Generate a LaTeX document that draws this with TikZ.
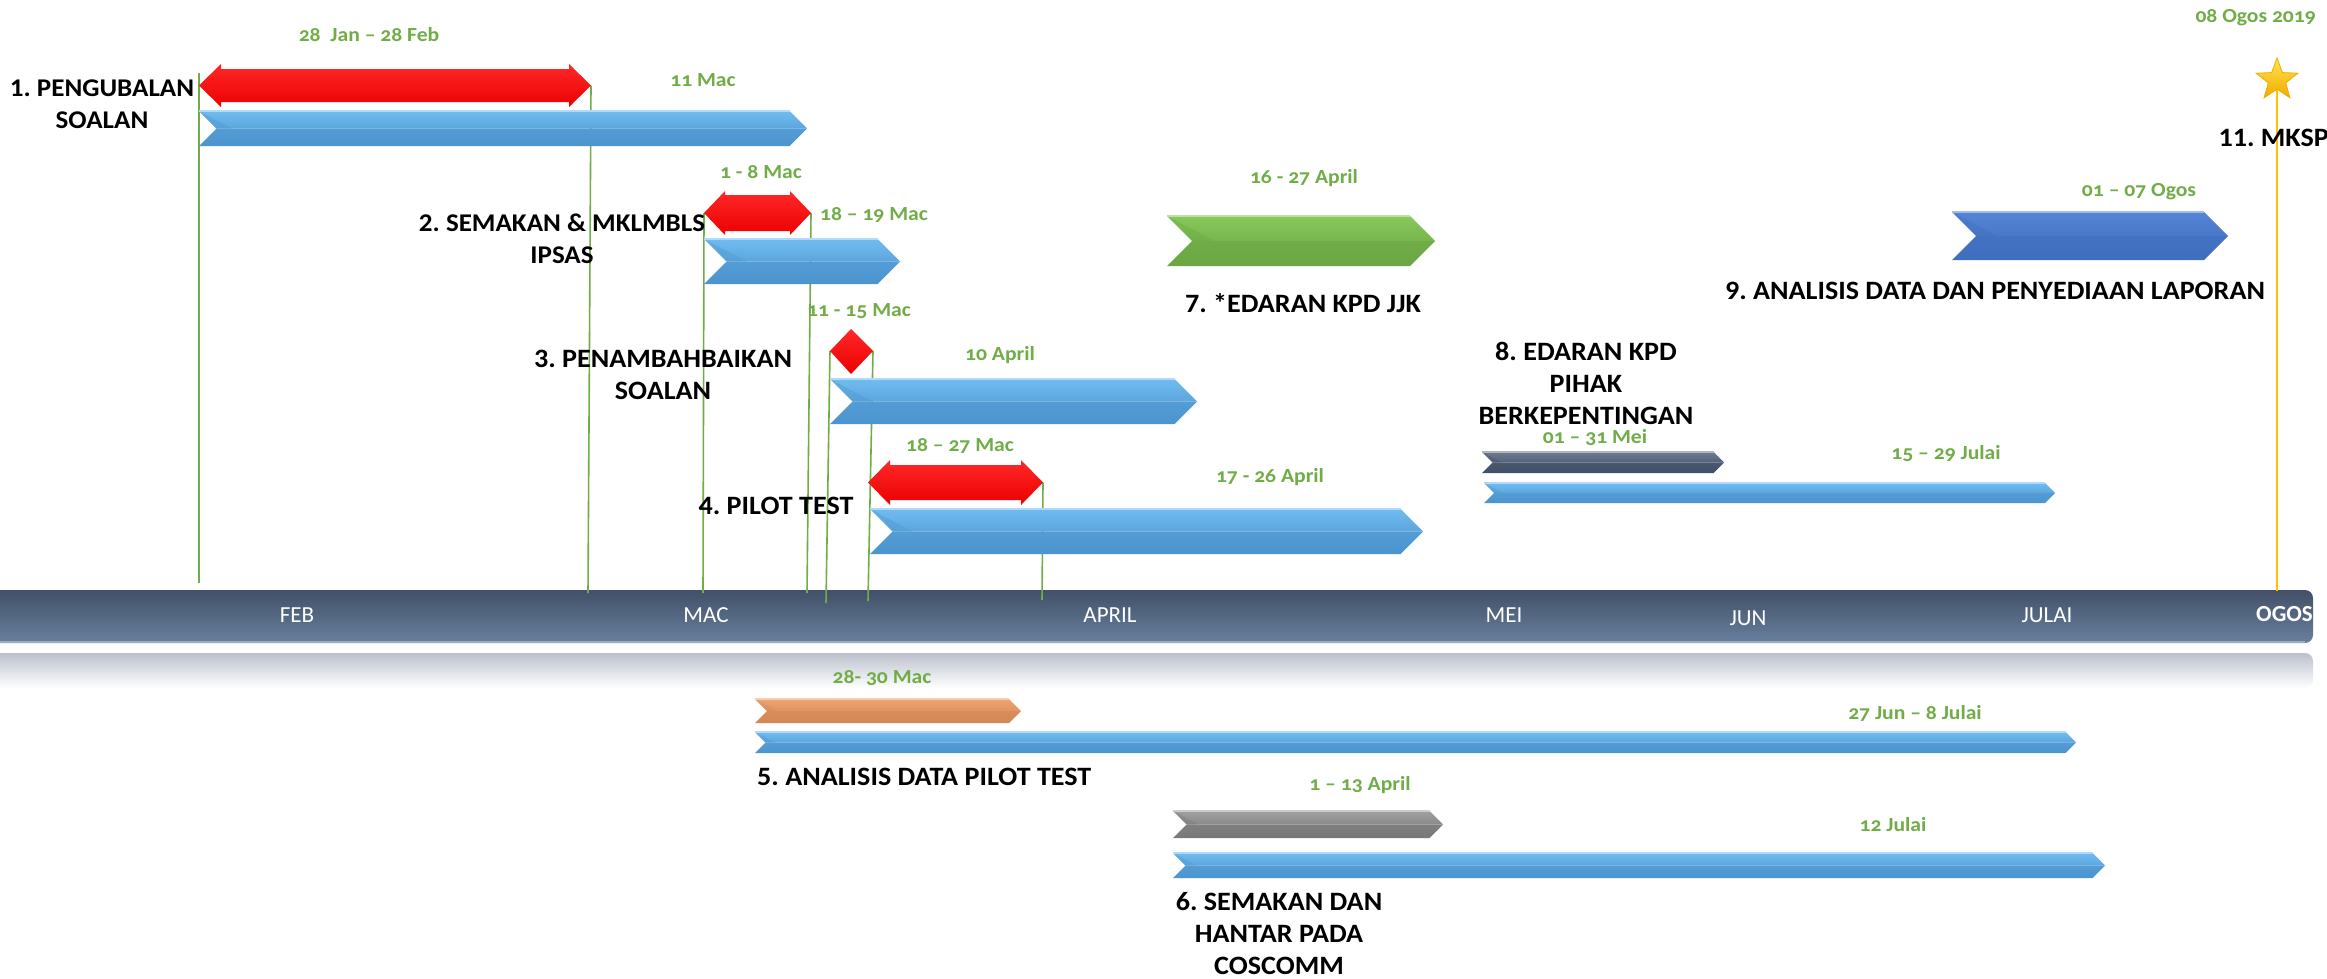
\documentclass[tikz,border=0pt]{standalone}
\usepackage{fontspec}
\setmainfont{Carlito}
\newfontfamily\labfam[FakeStretch=1.06]{Carlito}
\newfontfamily\datefam[FakeStretch=1.08, Numbers=OldStyle]{Carlito}
\usetikzlibrary{shapes.geometric}
\frenchspacing

\definecolor{lblgreen}{RGB}{112,173,71}
\definecolor{blueT}{RGB}{112,188,240}
\definecolor{blueB}{RGB}{76,148,206}
\definecolor{royalT}{RGB}{86,132,214}
\definecolor{royalB}{RGB}{64,110,190}
\definecolor{greenT}{RGB}{136,200,92}
\definecolor{greenB}{RGB}{106,166,66}
\definecolor{orangeT}{RGB}{238,164,112}
\definecolor{orangeB}{RGB}{210,135,85}
\definecolor{grayT}{RGB}{160,160,160}
\definecolor{grayB}{RGB}{120,120,120}
\definecolor{darkT}{RGB}{108,122,142}
\definecolor{darkB}{RGB}{64,80,104}
\definecolor{redT}{RGB}{255,40,40}
\definecolor{redB}{RGB}{236,0,0}
\definecolor{barT}{RGB}{66,80,104}
\definecolor{barB}{RGB}{104,128,158}
\definecolor{reflT}{RGB}{186,192,204}
\definecolor{starT}{RGB}{255,230,80}
\definecolor{starB}{RGB}{240,170,0}
\definecolor{gold}{RGB}{255,192,0}

\newcommand\labfont{\labfam\fontsize{26.5}{32}\selectfont\bfseries}
\newcommand\labfontsm{\labfam\fontsize{25.5}{32}\selectfont\bfseries}
\newcommand\datefont{\datefam\fontsize{20}{22}\selectfont\bfseries}

\tikzset{
  lab/.style={font=\labfont, align=center, inner sep=0pt, text=black},
  dlab/.style={font=\datefont, text=lblgreen, inner sep=0pt},
  mon/.style={font=\fontsize{23}{26}\selectfont, text=white, inner sep=0pt},
  guide/.style={draw=lblgreen, line width=1.6pt},
  redshape/.style={top color=redT, bottom color=redB},
}

% chevron: name, light colour, base colour, x1, x2, y1, y2
\newcommand\mychev[7]{%
  \pgfmathsetmacro\cvH{(#7-#6)/2}%
  \pgfmathsetmacro\cvM{(#6+#7)/2}%
  \path[top color=#2, bottom color=#2!45!#3] (#4,#6) -- ({#5-\cvH},#6) -- (#5,\cvM) -- ({#4+\cvH},\cvM) -- cycle;
  \path[top color=#3!80!#2, bottom color=#3] ({#4+\cvH},\cvM) -- (#5,\cvM) -- ({#5-\cvH},#7) -- (#4,#7) -- cycle;
  \path[fill=#3, fill opacity=0.35] (#4,#6) -- ({#4+\cvH},\cvM) -- ({#4+1.9*\cvH},\cvM) -- cycle;
  \draw[#2!55!white, line width=1.1pt] (#4,#6) -- ({#5-\cvH},#6);
  \coordinate (#1) at (#4,\cvM);
}
% double arrow: name, x1, x2, y1, y2, inset, head width
\newcommand\mydbl[7]{%
  \pgfmathsetmacro\dbM{(#4+#5)/2}%
  \path[redshape] (#2,\dbM) -- ({#2+#7},#4) -- ({#2+#7},{#4+#6}) -- ({#3-#7},{#4+#6}) -- ({#3-#7},#4) -- (#3,\dbM)
    -- ({#3-#7},#5) -- ({#3-#7},{#5-#6}) -- ({#2+#7},{#5-#6}) -- ({#2+#7},#5) -- cycle;
  \coordinate (#1w) at (#2,\dbM);
  \coordinate (#1e) at (#3,\dbM);
}

\begin{document}
\begin{tikzpicture}[x=1pt,y=-1pt]
\useasboundingbox[fill=white] (0,0) rectangle (2327,978);

% ---------- timeline bar and reflection ----------
\begin{scope}
  \clip (0,0) rectangle (2327,978);
  \path[top color=reflT, bottom color=white, rounded corners=8pt] (-20,653) rectangle (2313,688);
  \path[top color=barT, bottom color=barB, rounded corners=8pt] (-20,590) rectangle (2313,643);
  \draw[white, opacity=0.35, line width=1.2pt] (0,642) -- (2305,642);
\end{scope}

% bar points for guides
\coordinate (g1top) at (199,73);
\coordinate (g1b) at (199,583);
\coordinate (g2b) at (588,593);
\coordinate (g3b) at (703,593);
\coordinate (g4b) at (807,593);
\coordinate (g5b) at (826,603);
\coordinate (g6b) at (868,601);
\coordinate (g7b) at (1042,600);
\coordinate (g8b) at (2277,591);

% month labels
\node[mon] (feb) at (297,615) {FEB};
\node[mon] (mac) at (706,615) {MAC};
\node[mon] (apr) at (1110,615) {APRIL};
\node[mon] (mei) at (1504,615) {MEI};
\node[mon] (jun) at (1748,618) {JUN};
\node[mon] (jul) at (2047,615) {JULAI};
\begin{scope}
  \clip (2200,590) rectangle (2313,643);
  \node[mon, font=\fontsize{23}{26}\selectfont\bfseries, anchor=west] (ogos) at (2256,614) {OGOS};
\end{scope}

% ---------- named anchors of red shapes ----------
\coordinate (r1w) at (199,85.5);
\coordinate (r1e) at (591,85.5);
\coordinate (r2w) at (704,213);
\coordinate (r2e) at (811,213);
\coordinate (r4w) at (868,482.5);
\coordinate (r4e) at (1043,482.5);
\coordinate (d3w) at (830,351);
\coordinate (d3e) at (873,351);

% ---------- guide lines (behind shapes) ----------
\draw[guide] (g1top) -- (g1b);
\draw[guide] (r1e) -- (g2b);
\draw[guide] (r2w) -- (g3b);
\draw[guide] (r2e) -- (g4b);
\draw[guide] (d3w) -- (g5b);
\draw[guide] (d3e) -- (g6b);
\draw[guide] (r4e) -- (g7b);

% red arrows and diamond
\mydbl{r1}{199}{591}{64}{107}{5}{22}
\mydbl{r2}{704}{811}{191}{235}{4}{21}
\mydbl{r4}{868}{1043}{460}{505}{5}{22}
\path[redshape] (d3w) -- (851,329) -- (d3e) -- (851,374) -- cycle;

% chevrons
\mychev{c1}{blueT}{blueB}{199}{807}{111}{146}
\mychev{c2}{blueT}{blueB}{704}{900}{239}{284}
\mychev{c3}{blueT}{blueB}{830}{1197}{379}{424}
\mychev{c4}{blueT}{blueB}{870}{1423}{509}{554}
\mychev{c5o}{orangeT}{orangeB}{755}{1021}{699}{723}
\mychev{c5}{blueT}{blueB}{755}{2076}{732}{753}
\mychev{c6g}{grayT}{grayB}{1173}{1443}{811}{838}
\mychev{c6}{blueT}{blueB}{1173}{2105}{853}{878}
\mychev{c7}{greenT}{greenB}{1167}{1435}{216}{266}
\mychev{c8d}{darkT}{darkB}{1482}{1724}{452}{473}
\mychev{c8}{blueT}{blueB}{1484}{2055}{483}{503}
\mychev{c9}{royalT}{royalB}{1952}{2228}{212}{260}

% star and yellow line
\coordinate (starc) at (2277,80);
\draw[draw=gold, line width=2.4pt] (starc) -- (g8b);
\node[star, star points=5, star point ratio=2.4, minimum size=44pt, inner sep=0pt,
      top color=starT, bottom color=starB, draw=starB, line width=0.8pt] (star) at (starc) {};

% ---------- date labels ----------
\node[dlab] (l1a) at (369,35) {28\ \ Jan – 28 Feb};
\node[dlab] (l1b) at (703,80) {11 Mac};
\node[dlab] (l2a) at (761,172) {1 - 8 Mac};
\node[dlab] (l2b) at (874,215) {18 – 19 Mac};
\node[dlab] (l3a) at (859,311) {11 - 15 Mac};
\node[dlab] (l3b) at (1000,355) {10 April};
\node[dlab] (l4a) at (960,446) {18 – 27 Mac};
\node[dlab] (l4b) at (1270,477) {17 - 26 April};
\node[dlab] (l7) at (1304,178) {16 - 27 April};
\node[dlab] (l8a) at (1595,438) {01 – 31 Mei};
\node[dlab] (l8b) at (1946,454) {15 – 29 Julai};
\node[dlab] (l9) at (2139,192) {01 – 07 Ogos};
\node[dlab, anchor=east] (l11) at (2316,18) {08 Ogos 2019};
\node[dlab] (l5a) at (882,678) {28- 30 Mac};
\node[dlab] (l5b) at (1915,713) {27 Jun – 8 Julai};
\node[dlab] (l6a) at (1360,785) {1 – 13 April};
\node[dlab] (l6b) at (1893,825) {12 Julai};

% ---------- task labels ----------
\node[lab, font=\labfontsm] (t1) at (102,104.5) {1. PENGUBALAN\\SOALAN};
\node[lab, font=\labfontsm] (t2) at (562,239) {2. SEMAKAN \& MKLMBLS\\IPSAS};
\node[lab] (t3) at (663,375) {3. PENAMBAHBAIKAN\\SOALAN};
\node[lab] (t4) at (776,506) {4. PILOT TEST};
\node[lab, anchor=west] (t5) at (757,777) {5. ANALISIS DATA PILOT TEST};
\node[lab] (t6) at (1279,933.5) {6. SEMAKAN DAN\\HANTAR PADA\\COSCOMM};
\node[lab] (t7) at (1303,303) {7. *EDARAN KPD JJK};
\node[lab] (t8) at (1586,383.5) {8. EDARAN KPD\\PIHAK\\BERKEPENTINGAN};
\node[lab] (t9) at (1995,291) {9. ANALISIS DATA DAN PENYEDIAAN LAPORAN};
\node[lab, anchor=east] (t11) at (2329,138) {11. MKSP};
\end{tikzpicture}
\end{document}
